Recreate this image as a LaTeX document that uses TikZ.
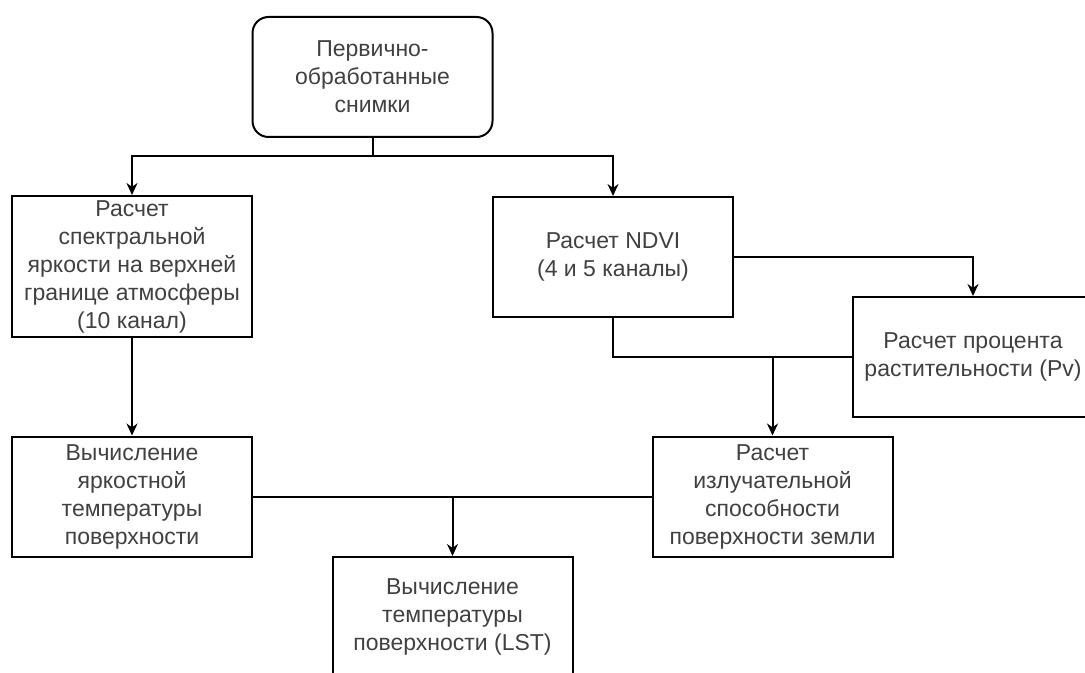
\documentclass[tikz,border=0pt]{standalone}
\usepackage{fontspec}
\setmainfont{Liberation Sans}
\usetikzlibrary{arrows.meta}

\begin{document}
\begin{tikzpicture}[x=0.5pt, y=-0.5pt, line width=1pt,
  every node/.style={draw, align=center, text=black!75, font=\fontsize{11.5}{14}\selectfont,
    minimum width=120pt, minimum height=60pt, inner sep=1pt},
  startbox/.style={rounded corners=8pt},
  arr/.style={-{Stealth[length=6pt, width=5.5pt]}}
]
\useasboundingbox (0,0) rectangle (1085,673);

\node[startbox] (src) at (372.5,77) {Первично-\\обработанные\\снимки};
\node[minimum height=70.5pt] (rad) at (132,266.5) {Расчет\\спектральной\\яркости на верхней\\границе атмосферы\\(10 канал)};
\node (ndvi) at (613,257) {Расчет NDVI\\(4 и 5 каналы)};
\node (pv) at (973,357) {Расчет процента\\растительности (Pv)};
\node (bt) at (132,496.5) {Вычисление\\яркостной\\температуры\\поверхности};
\node (emis) at (772.5,496.5) {Расчет\\излучательной\\способности\\поверхности земли};
\node (lst) at (452.5,617) {Вычисление\\температуры\\поверхности (LST)};

% branches
\coordinate (j1) at (372.5,156);
\draw (src.south) -- (j1);
\draw[arr] (j1) -| (rad.north);
\draw[arr] (j1) -| (ndvi.north);
\draw[arr] (ndvi.east) -| (pv.north);
\draw[arr] (rad.south) -- (bt.north);

% merges
\coordinate (j2) at (emis.north |- pv.west);
\draw (ndvi.south) |- (pv.west);
\draw[arr] (j2) -- (emis.north);
\coordinate (j3) at (lst.north |- bt.east);
\draw (bt.east) -- (emis.west);
\draw[arr] (j3) -- (lst.north);
\end{tikzpicture}
\end{document}
